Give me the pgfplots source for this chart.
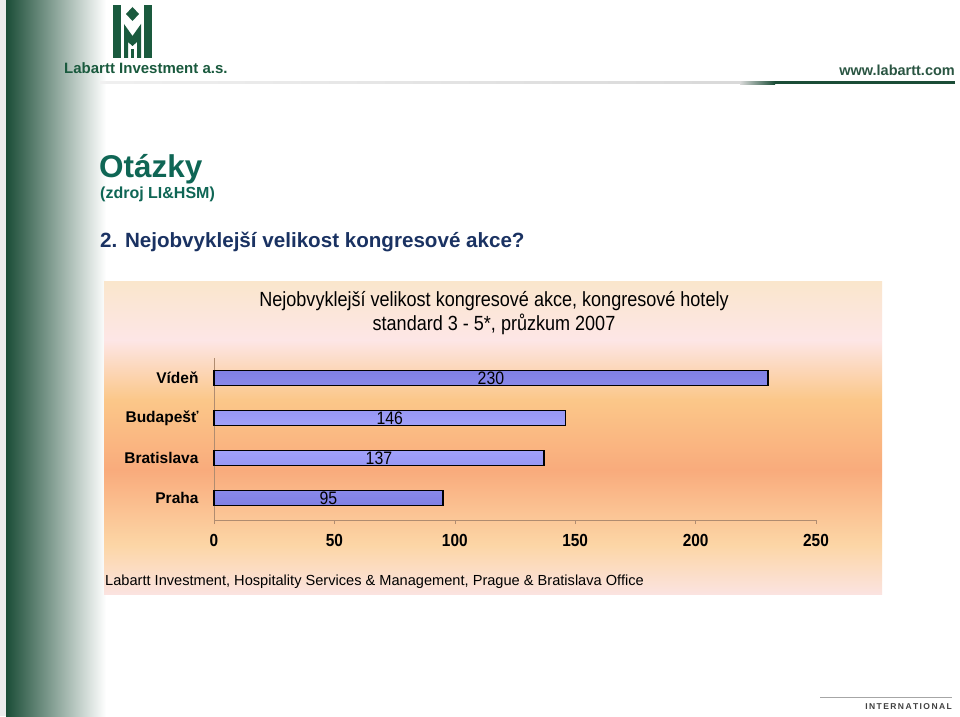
\documentclass[border=0pt]{standalone}
\usepackage{fontspec}
\setmainfont{Liberation Sans}
\newfontfamily\narrow[FakeStretch=0.88]{Liberation Sans}
\usepackage{pgfplots}
\pgfplotsset{compat=1.18}
\definecolor{dkgreen}{HTML}{1B4D37}
\definecolor{logogreen}{HTML}{1A5A3E}
\definecolor{teal}{HTML}{0F6655}
\definecolor{navy}{HTML}{1A3262}
\definecolor{bgA}{HTML}{FBE3E0}
\definecolor{bgB}{HTML}{FCD6A6}
\definecolor{bgC}{HTML}{F9AB7C}
\definecolor{bgD}{HTML}{FBC789}
\definecolor{bgE}{HTML}{FDE6E6}
\definecolor{bgF}{HTML}{FAE6CC}
\definecolor{barmid}{HTML}{A8A8FF}
\definecolor{baredge}{HTML}{8080E4}
\definecolor{axcol}{HTML}{B08C70}
\pgfdeclareverticalshading{chartbg}{100bp}{color(0bp)=(bgA); color(25bp)=(bgA); color(32.8bp)=(bgB); color(44.8bp)=(bgC); color(56bp)=(bgD); color(65.6bp)=(bgE); color(75bp)=(bgF); color(100bp)=(bgF)}
\begin{document}
\begin{tikzpicture}
\begin{scope}[x=1pt,y=-1pt,yshift=716pt]
\path[use as bounding box] (0,0) rectangle (960,716);
\fill[white] (0,0) rectangle (960,716);
% left green gradient
\fill[gray!15] (0,0) rectangle (6,716);
\shade[left color=dkgreen, right color=white] (6,0) rectangle (106,716);
% logo
\fill[logogreen] (113,5) rectangle (121,58);
\fill[logogreen] (144,5) rectangle (152,58);
\fill[logogreen] (124,24) -- (132.5,36) -- (141,24) -- (141,58) -- (137,58) -- (137,42) -- (132.5,46) -- (128,42) -- (128,58) -- (124,58) -- cycle;
\fill[logogreen] (131,49) rectangle (134,58);
\fill[logogreen] (132.5,7) -- (139,14) -- (132.5,21) -- (126,14) -- cycle;
\node[anchor=west, text=logogreen, font=\bfseries\fontsize{15}{15}\selectfont, inner sep=0] at (64,68) {Labartt Investment a.s.};
\node[anchor=east, text=dkgreen!85!gray, font=\bfseries\fontsize{14.5}{15}\selectfont, inner sep=0] at (955,70) {www.labartt.com};
\shade[left color=gray!12, right color=gray!30] (100,81.5) rectangle (740,83.5);
\shade[left color=gray!30, right color=dkgreen] (740,81.5) rectangle (775,84.5);
\fill[dkgreen] (775,81.5) rectangle (955,84.5);
% bottom right
\draw[gray!70, line width=1pt] (820,697) -- (952,697);
\node[anchor=east, text=black!75, font=\bfseries\fontsize{8.5}{9}\selectfont, inner sep=0] at (952,707) {I\,N\,T\,E\,R\,N\,A\,T\,I\,O\,N\,A\,L};
% headings
\node[anchor=base west, text=teal, font=\bfseries\fontsize{31.5}{32}\selectfont, inner sep=0] at (99,178) {Otázky};
\node[anchor=base west, text=teal, font=\bfseries\fontsize{16}{16}\selectfont, inner sep=0] at (100,199) {(zdroj LI\&HSM)};
\node[anchor=base west, text=navy, font=\bfseries\fontsize{20.6}{21}\selectfont, inner sep=0] at (100,248) {2. Nejobvyklejší velikost kongresové akce?};
% chart background
\shade[shading=chartbg] (104,281) rectangle (882,594);
\node[align=center, font=\narrow\fontsize{20.5}{24}\selectfont, inner sep=0] at (494,313) {Nejobvyklejší velikost kongresové akce, kongresové hotely\\standard 3 - 5*, průzkum 2007};
\node[anchor=base west, font=\fontsize{14.6}{15}\selectfont, inner sep=0] at (105,585) {Labartt Investment, Hospitality Services \& Management, Prague \& Bratislava Office};
\end{scope}
\begin{axis}[
  at={(214pt,196pt)}, anchor=south west,
  scale only axis, width=602pt, height=162pt,
  xmin=0, xmax=250, ymin=-0.55, ymax=3.5,
  axis x line*=bottom, axis y line*=left,
  axis line style={axcol, line width=0.7pt},
  xtick={0,50,100,150,200,250},
  ytick={0,1,2,3},
  yticklabels={Praha,Bratislava,Budapešť,Vídeň},
  x tick style={axcol, line width=0.6pt},
  major tick length=4pt,
  tick align=outside,
  y tick style={draw=none},
  xticklabel style={font=\narrow\bfseries\fontsize{17.5}{17}\selectfont, yshift=-7pt},
  yticklabel style={font=\bfseries\fontsize{15.5}{15}\selectfont, xshift=-8pt},
  /pgf/number format/assume math mode=true,
  clip=false,
]
\addplot[xbar, bar width=15pt, draw=none,
  top color=baredge, bottom color=baredge, middle color=barmid,
  postaction={draw=black, line width=1.6pt}]
  coordinates {(230,3) (146,2) (137,1) (95,0)};
\addplot[only marks, mark=none, nodes near coords, point meta=explicit symbolic,
  nodes near coords style={anchor=center, text=black, font=\narrow\fontsize{18}{18}\selectfont, inner sep=0}]
  coordinates {(115,3) [230] (73,2) [146] (68.5,1) [137] (47.5,0) [95]};
\end{axis}
\end{tikzpicture}
\end{document}
